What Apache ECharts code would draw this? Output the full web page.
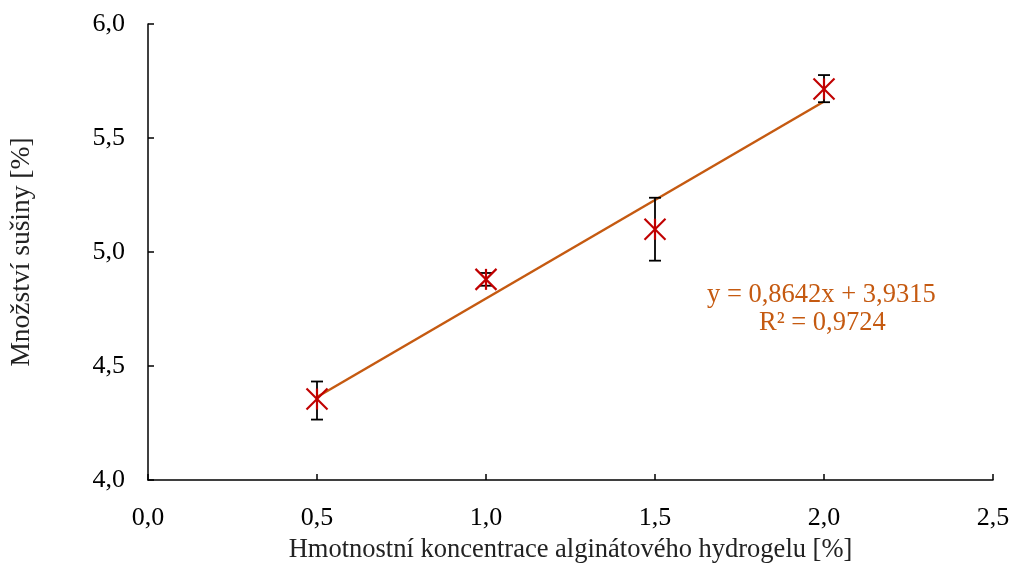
<!DOCTYPE html>
<html>
<head>
<meta charset="utf-8">
<script src="https://cdn.jsdelivr.net/npm/echarts@6/dist/echarts.min.js"></script>
<style>
  html, body { margin: 0; padding: 0; background: #fff; }
  #chart { width: 1011px; height: 563px; }
</style>
</head>
<body>
<div id="chart"></div>
<script>
// koncentrace hydrogelu [%] a sušina [%]
var concentration = [0.5, 1.0, 1.5, 2.0];
var drySubstance = [4.355, 4.88, 5.10, 5.715];
var errLow = [4.265, 4.852, 4.962, 5.657];
var errHigh = [4.432, 4.908, 5.238, 5.776];
// lineární spojnice trendu
var trendX = [0.5, 2.0];
var trendY = [4.364, 5.660];
var eqLines = ['y = 0,8642x + 3,9315', 'R² = 0,9724'];

var serif = '"Liberation Serif", "Times New Roman", serif';
var red = '#C00000';
var orange = '#C55A11';

function fmt(v) { return v.toFixed(1).replace('.', ','); }

var chart = echarts.init(document.getElementById('chart'));

var points = concentration.map(function (x, i) {
  return [x, drySubstance[i], errLow[i], errHigh[i]];
});

chart.setOption({
  animation: false,
  grid: { left: 148, right: 18, top: 24, bottom: 83, outerBoundsMode: 'none', containLabel: false },
  xAxis: {
    type: 'value', min: 0, max: 2.5, interval: 0.5,
    name: 'Hmotnostní koncentrace alginátového hydrogelu [%]',
    nameLocation: 'middle', nameGap: 57,
    nameTextStyle: { fontFamily: serif, fontSize: 26.5, color: '#222' },
    axisLine: { lineStyle: { color: '#000', width: 1.5 } },
    axisTick: { inside: true, length: 6, lineStyle: { color: '#000', width: 1.5 } },
    axisLabel: { margin: 25, fontFamily: serif, fontSize: 26, color: '#000', formatter: fmt },
    splitLine: { show: false }
  },
  yAxis: {
    type: 'value', min: 4, max: 6, interval: 0.5,
    name: 'Množství sušiny [%]',
    nameLocation: 'middle', nameGap: 112, nameRotate: 90,
    nameTextStyle: { fontFamily: serif, fontSize: 27.5, color: '#222' },
    axisLine: { show: true, lineStyle: { color: '#000', width: 1.5 } },
    axisTick: { show: true, inside: true, length: 6, lineStyle: { color: '#000', width: 1.5 } },
    axisLabel: { margin: 23, fontFamily: serif, fontSize: 26, color: '#000', formatter: fmt },
    splitLine: { show: false }
  },
  graphic: [
    { type: 'text', left: 707, top: 282, style: { text: eqLines[0], font: '26.5px ' + serif, fill: orange } },
    { type: 'text', left: 759, top: 310, style: { text: eqLines[1], font: '26.5px ' + serif, fill: orange } }
  ],
  series: [
    {
      type: 'line',
      data: trendX.map(function (x, i) { return [x, trendY[i]]; }),
      symbol: 'none',
      lineStyle: { color: orange, width: 2.5 },
      z: 3
    },
    {
      type: 'custom',
      data: points,
      z: 4,
      renderItem: function (params, api) {
        var c = api.coord([api.value(0), api.value(1)]);
        var lo = api.coord([api.value(0), api.value(2)]);
        var hi = api.coord([api.value(0), api.value(3)]);
        var cap = 6, m = 10.5;
        var black = { stroke: '#000', lineWidth: 1.8 };
        var rs = { stroke: red, lineWidth: 2.2 };
        return {
          type: 'group',
          children: [
            { type: 'line', shape: { x1: lo[0], y1: lo[1], x2: hi[0], y2: hi[1] }, style: black },
            { type: 'line', shape: { x1: lo[0] - cap, y1: lo[1], x2: lo[0] + cap, y2: lo[1] }, style: black },
            { type: 'line', shape: { x1: hi[0] - cap, y1: hi[1], x2: hi[0] + cap, y2: hi[1] }, style: black },
            { type: 'line', shape: { x1: c[0] - m, y1: c[1] - m, x2: c[0] + m, y2: c[1] + m }, style: rs },
            { type: 'line', shape: { x1: c[0] - m, y1: c[1] + m, x2: c[0] + m, y2: c[1] - m }, style: rs },
            { type: 'line', shape: { x1: c[0], y1: c[1] - m, x2: c[0], y2: c[1] + m }, style: rs }
          ]
        };
      }
    }
  ]
});
</script>
</body>
</html>
